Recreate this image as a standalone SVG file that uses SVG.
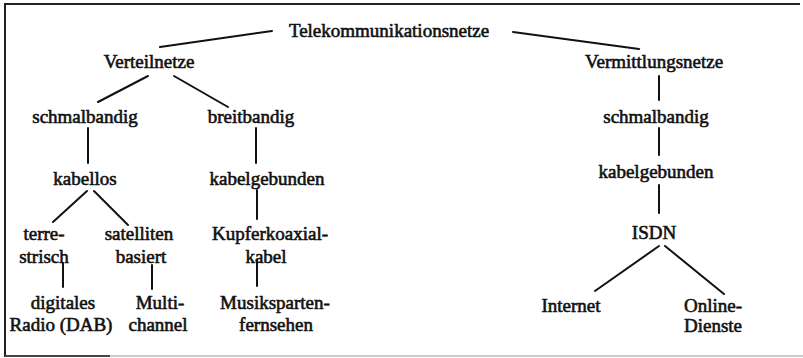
<svg xmlns="http://www.w3.org/2000/svg" width="803" height="358" viewBox="0 0 803 358">
<style>
text{font-family:"Liberation Serif","Times New Roman",serif;font-size:19px;fill:#111;stroke:#111;stroke-width:0.6;text-anchor:middle}
.c line{stroke:#111;stroke-width:2;stroke-linecap:round}
.frame{stroke:#222;stroke-width:2;fill:none}
</style>
<rect width="803" height="358" fill="#fff"/>
<g id="frame">
<path class="frame" d="M5,357 V4 H800"/>
<line x1="5" y1="356" x2="110" y2="356" stroke="#444" stroke-width="2"/>
<line x1="110" y1="356" x2="803" y2="356" stroke="#ccc" stroke-width="2"/>
</g>
<g class="c" id="connectors">
<line x1="160" y1="47" x2="272" y2="31"/>
<line x1="513" y1="32" x2="639" y2="49"/>
<line x1="148" y1="76" x2="98" y2="102"/>
<line x1="174" y1="76" x2="228" y2="107"/>
<line x1="88" y1="128" x2="88" y2="163"/>
<line x1="256" y1="128" x2="256" y2="163"/>
<line x1="659" y1="76" x2="659" y2="100"/>
<line x1="659" y1="128" x2="659" y2="155"/>
<line x1="87" y1="191" x2="53" y2="222"/>
<line x1="94" y1="191" x2="128" y2="225"/>
<line x1="257" y1="190" x2="257" y2="219"/>
<line x1="63" y1="263" x2="63" y2="287"/>
<line x1="152" y1="265" x2="152" y2="289"/>
<line x1="257" y1="260" x2="257" y2="286"/>
<line x1="659" y1="185" x2="659" y2="213"/>
<line x1="659" y1="246" x2="595" y2="291"/>
<line x1="665" y1="246" x2="724" y2="294"/>
</g>
<g id="n-telekom"><text x="389" y="37">Telekommunikationsnetze</text></g>
<g id="n-verteil"><text x="149" y="68">Verteilnetze</text></g>
<g id="n-vermitt"><text x="654" y="68">Vermittlungsnetze</text></g>
<g id="n-schmal1"><text x="85" y="123">schmalbandig</text></g>
<g id="n-breit"><text x="251" y="123">breitbandig</text></g>
<g id="n-schmal2"><text x="656" y="123">schmalbandig</text></g>
<g id="n-kabellos"><text x="85" y="185">kabellos</text></g>
<g id="n-kabelgeb1"><text x="267" y="185">kabelgebunden</text></g>
<g id="n-kabelgeb2"><text x="656" y="178">kabelgebunden</text></g>
<g id="n-terre"><text x="44" y="240">terre-</text><text x="44" y="263">strisch</text></g>
<g id="n-satell"><text x="139" y="240">satelliten</text><text x="141" y="263">basiert</text></g>
<g id="n-kupfer"><text x="270" y="240">Kupferkoaxial-</text><text x="266" y="263">kabel</text></g>
<g id="n-isdn"><text x="654" y="239">ISDN</text></g>
<g id="n-dab"><text x="63" y="309">digitales</text><text x="61" y="331">Radio (DAB)</text></g>
<g id="n-multi"><text x="160" y="309">Multi-</text><text x="158" y="331">channel</text></g>
<g id="n-musik"><text x="275" y="309">Musiksparten-</text><text x="276" y="331">fernsehen</text></g>
<g id="n-internet"><text x="571" y="312">Internet</text></g>
<g id="n-online"><text x="713" y="312">Online-</text><text x="713" y="332">Dienste</text></g>
</svg>
